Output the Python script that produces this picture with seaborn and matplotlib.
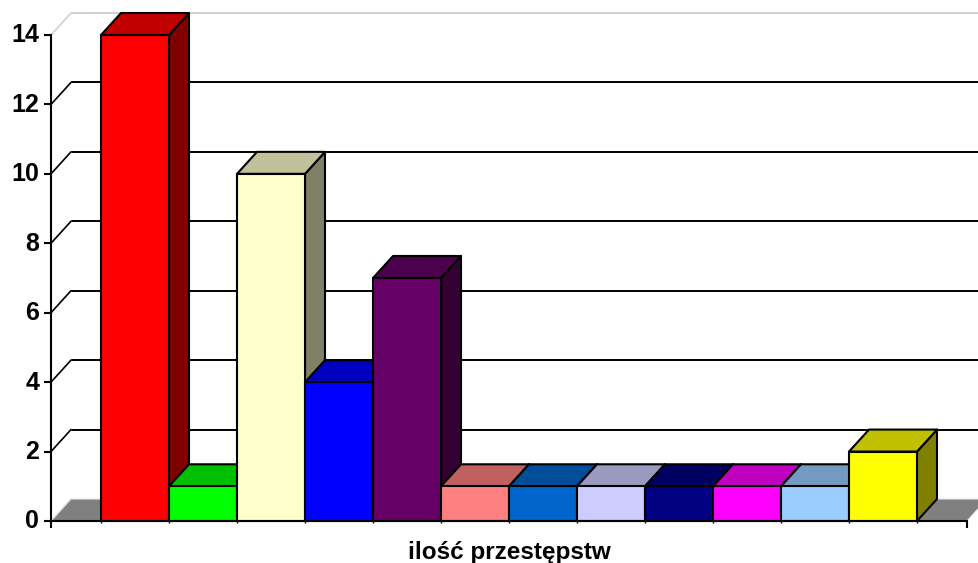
import matplotlib
matplotlib.use("Agg")
import matplotlib.pyplot as plt
from matplotlib.transforms import ScaledTranslation
import seaborn as sns

series = [f"seria {i}" for i in range(1, 13)]
values = [14, 1, 10, 4, 7, 1, 1, 1, 1, 1, 1, 2]
front_colors = ["#FF0000", "#00FF00", "#FFFFCC", "#0000FF", "#660066", "#FF8080",
                "#0066CC", "#CCCCFF", "#000080", "#FF00FF", "#99CCFF", "#FFFF00"]
top_colors = ["#C00000", "#00C000", "#C0C09A", "#0000C0", "#4D004D", "#C06060",
              "#004D9A", "#9A9AC0", "#000060", "#C000C0", "#739AC0", "#C0C000"]
side_colors = ["#800000", "#008000", "#808066", "#000080", "#330033", "#804040",
               "#003366", "#666680", "#000040", "#800080", "#4D6680", "#808000"]
y_ticks = [0, 2, 4, 6, 8, 10, 12, 14]
x_title = "ilość przestępstw"

W, H = 979, 563
L, R, T, B = 51, 967, 35, 521
sns.set_theme(style="white")
plt.rcParams["font.family"] = ["Liberation Sans", "DejaVu Sans"]

fig = plt.figure(figsize=(W / 100, H / 100), dpi=100)
ax = fig.add_axes([L / W, 1 - B / H, (R - L) / W, (B - T) / H])

sns.barplot(x=series, y=values, hue=series, palette=front_colors, width=1,
            legend=False, dodge=False, edgecolor="black", linewidth=1.5, ax=ax, saturation=1)

bar_w = 68
margin = (101 - L) / bar_w
ax.set_xlim(-0.5 - margin, 11.5 + margin)
ax.set_ylim(0, 14)
DX = 20 / bar_w                 # depth of the 3-D look, in category units
DY = 22 / ((B - T) / 14)        # depth of the 3-D look, in value units
x0, x1 = ax.get_xlim()

# back wall gridlines and their diagonals
for v in y_ticks:
    colour = "#D0D0D0" if v == 14 else ("#E0E0E0" if v == 0 else "black")
    ax.plot([x0, x0 + DX], [v, v + DY], color=colour, lw=1.2, clip_on=False, zorder=1)
    if v > 0:
        ax.plot([x0 + DX + 0.01, x1 + DX], [v + DY, v + DY], color=colour, lw=1.4,
                clip_on=False, zorder=1)

# grey floor
ax.fill([x0, x0 + DX, x1 + DX, x1], [0, DY, DY, 0], facecolor="#808080",
        edgecolor="#E8E8E8", lw=0.8, clip_on=False, zorder=1.5)

# bars: side, top, front, left to right so each one overlaps the previous
bars = [p for p in ax.patches]
for i, (p, v) in enumerate(zip(bars, values)):
    a = p.get_x()
    b = a + p.get_width()
    z = 2 + i
    ax.fill([b, b + DX, b + DX, b], [0, DY, v + DY, v], facecolor=side_colors[i],
            edgecolor="black", lw=1.5, clip_on=False, zorder=z, joinstyle="round")
    ax.fill([a, a + DX, b + DX, b], [v, v + DY, v + DY, v], facecolor=top_colors[i],
            edgecolor="black", lw=1.5, clip_on=False, zorder=z + 0.1, joinstyle="round")
    p.set_zorder(z + 0.2)
    p.set_clip_on(False)

for s in ["top", "right"]:
    ax.spines[s].set_visible(False)
for s in ["left", "bottom"]:
    ax.spines[s].set_color("black")
    ax.spines[s].set_linewidth(1.5)
    ax.spines[s].set_zorder(30)

ax.set_yticks(y_ticks)
ax.set_yticklabels([str(v) for v in y_ticks], fontsize=18, fontweight="bold", color="black")
ax.tick_params(axis="y", length=5, width=1.5, pad=3.5, color="black", left=True)
shift = ScaledTranslation(0, 2 / 72 * 72 / 100, fig.dpi_scale_trans)
for lab in ax.get_yticklabels():
    lab.set_transform(lab.get_transform() + shift)
ax.set_xticks([x0, x1])
ax.set_xticklabels(["", ""])
ax.tick_params(axis="x", which="major", length=5, width=1.5, color="black", bottom=True)
ax.set_xticks([i - 0.5 for i in range(len(series) + 1)], minor=True)
ax.tick_params(axis="x", which="minor", length=1.2, width=1, color="black", bottom=True)

ax.set_xlabel(x_title, fontsize=17.5, fontweight="bold", color="black", labelpad=6)
ax.set_ylabel("")
ax.patch.set_alpha(0)

fig.savefig("out.png", dpi=100, facecolor="white")
